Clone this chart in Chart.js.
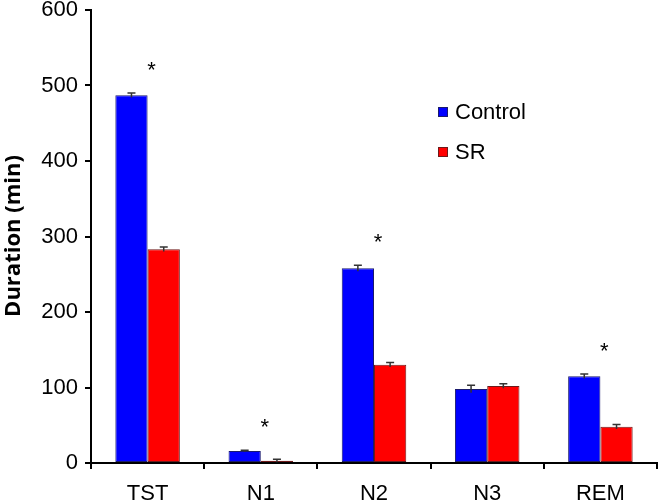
<!DOCTYPE html>
<html>
<head>
<meta charset="utf-8">
<script src="https://cdn.jsdelivr.net/npm/chart.js@4"></script>
<style>
  body { margin: 0; background: #fff; }
  #wrap { width: 660px; height: 503px; }
</style>
</head>
<body>
<div id="wrap"><canvas id="sleepChart" width="660" height="503"></canvas></div>
<script>
// Sleep stage durations (min)
const stages = ['TST', 'N1', 'N2', 'N3', 'REM'];
const controlValues = [487, 16, 258, 98, 115];
const srValues = [283, 3, 130, 102, 48];
const controlErr = [3, 1, 4, 5, 3];
const srErr = [3, 2, 3, 3, 3];
const significant = [true, true, true, false, true];
const yTicks = [0, 100, 200, 300, 400, 500, 600];

const FONT = "'Liberation Sans', Arial, sans-serif";

// Draw error bars, asterisks, legend and axis title
const extras = {
  id: 'extras',
  afterDatasetsDraw(chart) {
    const ctx = chart.ctx;
    const x = chart.scales.x;
    const y = chart.scales.y;
    const errs = [controlErr, srErr];

    ctx.save();
    // error bars
    ctx.strokeStyle = '#333';
    ctx.lineWidth = 1.5;
    chart.data.datasets.forEach(function(ds, di) {
      const meta = chart.getDatasetMeta(di);
      meta.data.forEach(function(bar, i) {
        const v = ds.data[i];
        const top = y.getPixelForValue(v + errs[di][i]);
        const bot = y.getPixelForValue(v - errs[di][i]);
        ctx.beginPath();
        ctx.moveTo(bar.x, top);
        ctx.lineTo(bar.x, bot);
        ctx.moveTo(bar.x - 4, top);
        ctx.lineTo(bar.x + 4, top);
        ctx.stroke();
      });
    });

    // asterisks above the taller bar
    ctx.fillStyle = '#000';
    ctx.font = '22px ' + FONT;
    ctx.textAlign = 'center';
    ctx.textBaseline = 'alphabetic';
    stages.forEach(function(s, i) {
      if (!significant[i]) return;
      const hi = Math.max(controlValues[i] + controlErr[i], srValues[i] + srErr[i]);
      const cy = y.getPixelForValue(hi) - 29;
      ctx.fillText('*', x.getPixelForValue(i) + 4, cy + 13);
    });

    // legend
    ctx.textAlign = 'left';
    ctx.textBaseline = 'middle';
    chart.data.datasets.forEach(function(ds, di) {
      const ly = 112 + di * 40;
      ctx.fillStyle = ds.backgroundColor;
      ctx.fillRect(438, ly - 5, 10, 10);
      ctx.strokeStyle = ds.borderColor;
      ctx.lineWidth = 1;
      ctx.strokeRect(438.5, ly - 4.5, 9, 9);
      ctx.fillStyle = '#000';
      ctx.fillText(ds.label, 455, ly + 1);
    });

    // y axis title
    ctx.translate(14, 236);
    ctx.rotate(-Math.PI / 2);
    ctx.textAlign = 'center';
    ctx.font = "bold 22px 'Open Sans', sans-serif";
    ctx.fillText('Duration (min)', 0, 0);
    ctx.restore();
  }
};

const ctx = document.getElementById('sleepChart').getContext('2d');
const sleepChart = new Chart(ctx, {
  type: 'bar',
  data: {
    labels: stages,
    datasets: [
      {
        label: 'Control',
        data: controlValues,
        backgroundColor: '#0000ff',
        borderColor: '#1a1a6e',
        borderWidth: 1,
        borderSkipped: false,
        categoryPercentage: 0.57,
        barPercentage: 1.0
      },
      {
        label: 'SR',
        data: srValues,
        backgroundColor: '#ff0000',
        borderColor: '#6e1a1a',
        borderWidth: 1,
        borderSkipped: false,
        categoryPercentage: 0.57,
        barPercentage: 1.0
      }
    ]
  },
  options: {
    responsive: false,
    animation: false,
    layout: { padding: { top: 0, right: 3, left: 0, bottom: 0 } },
    plugins: {
      legend: { display: false },
      tooltip: { enabled: false }
    },
    scales: {
      x: {
        grid: {
          display: true,
          offset: true,
          drawOnChartArea: false,
          drawTicks: true,
          tickLength: 6,
          color: '#000',
          lineWidth: 2
        },
        border: { display: true, color: '#000', width: 2 },
        ticks: {
          color: '#000',
          font: { family: FONT, size: 22 },
          padding: 12,
          maxRotation: 0
        },
        afterFit(scale) {
          scale.height = 40;
          scale.paddingLeft = 0;
          scale.paddingRight = 0;
        }
      },
      y: {
        min: 0,
        max: 600,
        afterBuildTicks(scale) { scale.ticks = yTicks.map(v => ({ value: v })); },
        grid: {
          display: true,
          drawOnChartArea: false,
          drawTicks: true,
          tickLength: 6,
          color: '#000',
          lineWidth: 2
        },
        border: { display: true, color: '#000', width: 2 },
        ticks: {
          color: '#000',
          font: { family: FONT, size: 22 },
          padding: 7
        },
        afterFit(scale) {
          scale.width = 91;
          scale.paddingTop = 10;
          scale.paddingBottom = 0;
        }
      }
    }
  },
  plugins: [extras]
});
</script>
</body>
</html>
